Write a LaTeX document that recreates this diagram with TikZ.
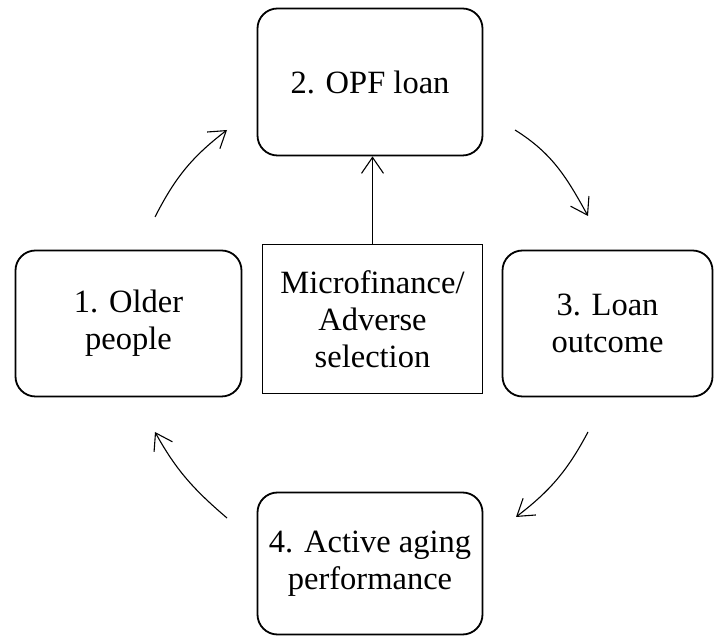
\documentclass[tikz,border=0pt]{standalone}
\usepackage{fontspec}
\setmainfont{Liberation Serif}
\usetikzlibrary{arrows.meta}
\begin{document}
\begin{tikzpicture}[x=1pt,y=1pt,
  txt/.style={font=\fontsize{32.5}{37}\selectfont},
  box/.style={draw, line width=1.8pt, rounded corners=20pt, align=center, inner sep=0pt, txt},
  sqbox/.style={draw, line width=1.8pt, align=center, inner sep=0pt, txt},
  cyc/.style={line width=1.1pt, -{Straight Barb[length=16pt,width=21pt]}},
  upar/.style={line width=1.1pt, -{Straight Barb[length=16pt,width=22pt]}}
]
\useasboundingbox (0,0) rectangle (715,637);
\node[box, minimum width=226pt, minimum height=146pt] (b1) at (128.5,313.5) {1. Older\\people};
\node[box, minimum width=225pt, minimum height=147pt] (b2) at (370,555) {2. OPF loan};
\node[box, minimum width=210pt, minimum height=146pt] (b3) at (607.5,313.5) {3. Loan\\outcome};
\node[box, minimum width=225pt, minimum height=142pt] (b4) at (370,73.5) {4. Active aging\\performance};
\node[sqbox, minimum width=220pt, minimum height=149pt] (c) at (372.5,318) {Microfinance/\\Adverse\\selection};
\draw[upar] (c.north) -- (c.north |- b2.south);
\coordinate (a1s) at (155,420);
\coordinate (a1e) at (227,507);
\coordinate (a2s) at (515,507);
\coordinate (a2e) at (588,421);
\coordinate (a3s) at (588,205);
\coordinate (a3e) at (516,120);
\coordinate (a4s) at (227,119);
\coordinate (a4e) at (155,205);
\draw[cyc] (a1s) to[out=63,in=217.5] (a1e);
\draw[cyc] (a2s) to[out=-32,in=119] (a2e);
\draw[cyc] (a3s) to[out=-118,in=37.5] (a3e);
\draw[cyc] (a4s) to[out=139.5,in=-61] (a4e);
\end{tikzpicture}
\end{document}
